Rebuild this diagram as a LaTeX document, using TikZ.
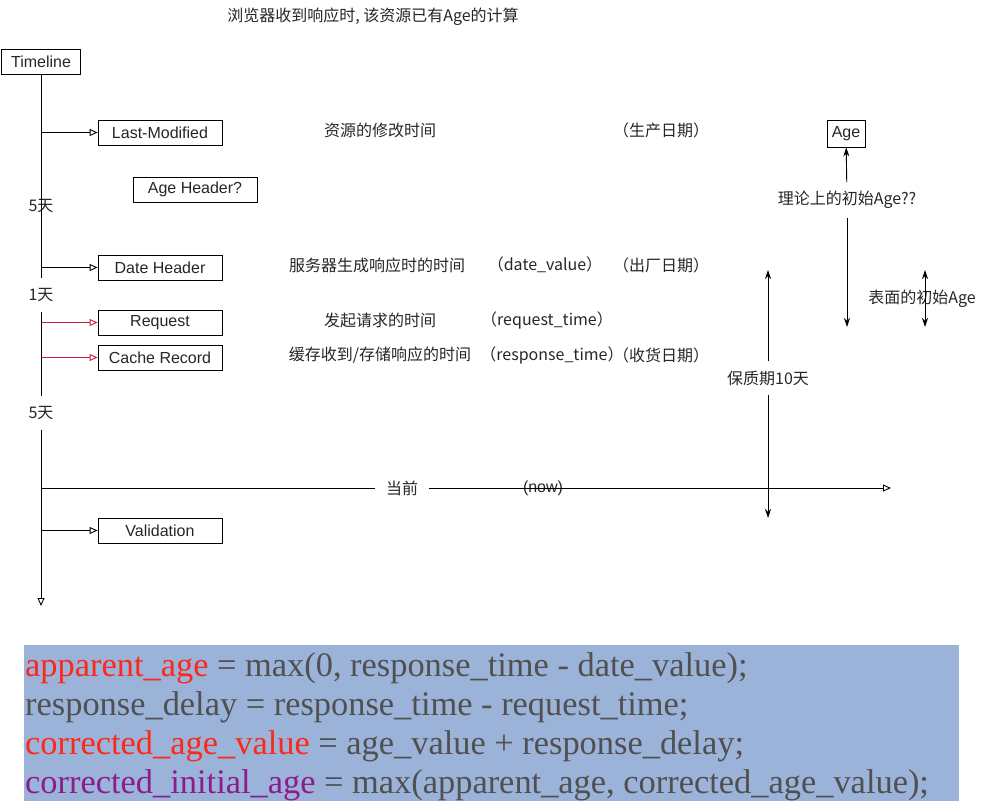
\documentclass[tikz,border=0pt]{standalone}
\usepackage{fontspec}
\setmainfont{Liberation Sans}
\newfontfamily\cjk{Noto Sans CJK SC}
\newfontfamily\eqfont{Liberation Serif}
\usetikzlibrary{arrows.meta,positioning}
\definecolor{linkred}{RGB}{200,30,60}
\definecolor{eqbg}{RGB}{155,179,216}
\definecolor{eqgray}{RGB}{80,80,80}
\definecolor{eqred}{RGB}{252,40,25}
\definecolor{eqpurple}{RGB}{140,28,140}

\begin{document}
\begin{tikzpicture}[x=1pt,y=-1pt,
    every node/.style={font=\fontsize{16}{18}\selectfont, text=black!85},
    event/.style={draw, line width=0.8pt, minimum width=124pt, minimum height=25pt, inner sep=0pt},
    note/.style={font=\cjk\fontsize{16}{18}\selectfont},
    ptr/.style={-{Triangle[open,length=8pt,width=7pt]}, line width=0.9pt},
    dim/.style={-{Stealth[length=9pt,width=6pt]}, line width=0.9pt},
    eqtext/.style={anchor=base west, inner sep=0pt, text=eqgray, font=\eqfont\fontsize{34.4}{39}\selectfont}]
  \useasboundingbox (0,0) rectangle (984,801);

  \node (title) [note] at (373,17) {浏览器收到响应时, 该资源已有Age的计算};

  \node (tl) [event, minimum width=79pt] at (41,61.5) {Timeline};
  \node (lm) [event] at (160,132.5) {Last-Modified};
  \node (ah) [event] at (195,189.5) {Age Header?};
  \node (dh) [event] at (160,267.5) {Date Header};
  \node (rq) [event] at (160,322.5) {Request};
  \node (cr) [event] at (160,357.5) {Cache Record};
  \node (vd) [event] at (160,530.5) {Validation};

  \node (d1) [note] at (41,206) {5天};
  \node (d2) [note, minimum height=33pt] at (41,295) {1天};
  \node (d3) [note, minimum height=34pt] at (41,413) {5天};
  \coordinate (tlend) at (41,606);

  \draw [line width=0.9pt] (tl) -- (d2);
  \draw [line width=0.9pt] (d2) -- (d3);
  \draw [ptr] (d3) -- (tlend);

  \draw [ptr] (tl |- lm.west) -- (lm.west);
  \draw [ptr] (tl |- dh.west) -- (dh.west);
  \draw [ptr, linkred] (tl |- rq.west) -- (rq.west);
  \draw [ptr, linkred] (tl |- cr.west) -- (cr.west);
  \draw [ptr] (tl |- vd.west) -- (vd.west);

  \node (lmn) [note] at (380,130) {资源的修改时间};
  \node (lmp) [note] at (661,130) {（生产日期）};
  \node (dhn) [note] at (377,265) {服务器生成响应时的时间};
  \node (dhv) [note] at (545,265) {（date\_value）};
  \node (dhp) [note] at (661,265) {（出厂日期）};
  \node (rqn) [note] at (380,320) {发起请求的时间};
  \node (rqv) [note] at (547,320) {（request\_time）};
  \node (crn) [note] at (380,355) {缓存收到/存储响应的时间};
  \node (crv) [note] at (552,355) {（response\_time）};
  \node (crp) [note] at (661,355) {（收货日期）};

  \node (age) [event, minimum width=38pt, minimum height=27pt] at (846,133.5) {Age};
  \node (tha) [note, inner ysep=9pt] at (847,200) {理论上的初始Age??};
  \coordinate (thb) at (847,327);
  \draw [dim] (tha) -- (age);
  \draw [dim] (tha) -- (thb);

  \node (sfa) [note] at (922,299) {表面的初始Age};
  \coordinate (sa1) at (925,270);
  \coordinate (sa2) at (925,327);
  \draw [dim, {Stealth[length=9pt,width=6pt]}-{Stealth[length=9pt,width=6pt]}] (sa1) -- (sa2);

  \node (shelf) [note, inner ysep=9pt] at (768,378) {保质期10天};
  \coordinate (sl1) at (768,270);
  \coordinate (sl2) at (768,518);
  \draw [dim] (shelf) -- (sl1);
  \draw [dim] (shelf) -- (sl2);

  \node (now) [note, inner xsep=11pt] at (402,488) {当前};
  \node (nowv) at (543,488) {(now)};
  \coordinate (nowend) at (891,488);
  \draw [line width=0.9pt] (tl |- now) -- (now);
  \draw [ptr] (now) -- (nowend);

  \fill [eqbg] (24,645) rectangle (959,801);
  \node (eq1) [eqtext] at (25,676) {\textcolor{eqred}{apparent\_age} = max(0, response\_time - date\_value);};
  \node (eq2) [eqtext] at (25,715) {response\_delay = response\_time - request\_time;};
  \node (eq3) [eqtext] at (25,754) {\textcolor{eqred}{corrected\_age\_value} = age\_value + response\_delay;};
  \node (eq4) [eqtext] at (25,793) {\textcolor{eqpurple}{corrected\_initial\_age} = max(apparent\_age, corrected\_age\_value);};
\end{tikzpicture}
\end{document}
